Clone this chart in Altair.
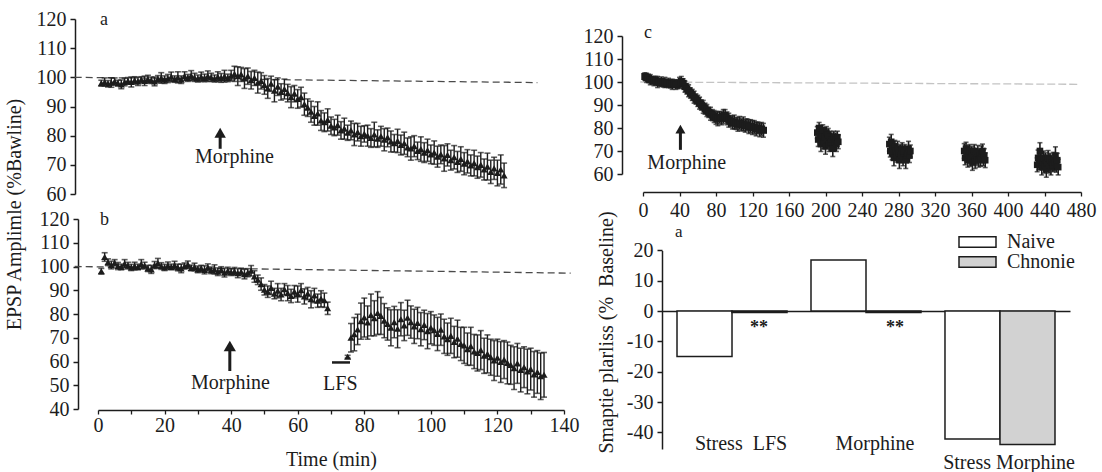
import altair as alt
import pandas as pd

FONT = "Liberation Serif, Times New Roman, serif"
INK = "#1c1c1c"

# ---------------- panel a : EPSP amplitude, morphine ----------------
a_time = list(range(1, 123))
a_mean = [98, 98.4, 97.8, 98.2, 98.6, 98, 97.6, 98.4, 98.8, 98.4,
          99, 98.6, 99.2, 98.8, 99.4, 99, 98.6, 99.4, 99.8, 99.2,
          99.6, 100.2, 99.4, 100, 99.2, 100.4, 99.8, 100.6, 100, 99.6,
          100.2, 99.8, 100.4, 100, 99.6, 100.2, 99.8, 100.4, 99.8, 100.6,
          101.2, 100.4, 101, 99.6, 100.4, 99, 99.8, 98.2, 98.8, 97.4,
          96.2, 97.8, 95.4, 96.8, 95, 96, 94.6, 93.2, 94.4, 92.6,
          93.2, 90.8, 89.6, 88.2, 86.8, 87.6, 85.2, 84.6, 85.4, 83.4,
          82.8, 83.6, 81.8, 82.4, 81, 81.8, 80.4, 81.2, 79.8, 80.6,
          80, 79.2, 80.4, 79, 79.8, 78.6, 79.4, 78, 77.4, 78.2,
          76.8, 77.4, 76, 75.6, 76.4, 74.8, 75.4, 74.2, 75, 73.6,
          74.2, 72.8, 73.6, 72.2, 73.4, 71.6, 72.6, 71, 72, 70.4,
          71.2, 69.8, 70.6, 69.2, 70, 68.4, 69.4, 67.6, 68.8, 67.2, 68.4, 66.4]
a_sem = [1.0, 1.4, 1.1, 1.6, 1.2, 1.0, 1.5, 1.3, 1.1, 1.7,
         1.2, 1.4, 1.0, 1.6, 1.3, 1.1, 1.5, 1.2, 1.8, 1.3,
         1.4, 1.6, 1.1, 1.9, 1.3, 1.5, 1.2, 1.7, 1.4, 1.2,
         1.6, 1.3, 1.8, 1.4, 1.2, 1.7, 1.5, 2.0, 1.3, 1.8,
         2.6, 3.2, 2.4, 3.4, 2.8, 3.0, 2.6, 3.6, 2.8, 3.2,
         3.4, 2.6, 3.8, 3.0, 2.8, 3.4, 3.0, 3.6, 2.8, 3.2,
         3.4, 3.8, 3.0, 3.6, 3.2, 4.0, 3.4, 3.2, 3.8, 3.0,
         2.8, 3.4, 3.0, 3.6, 2.6, 3.2, 3.8, 3.0, 3.4, 2.8,
         3.6, 3.2, 4.2, 3.0, 3.4, 3.8, 3.2, 3.6, 3.0, 4.0,
         3.4, 3.8, 3.2, 4.0, 3.6, 3.0, 4.2, 3.4, 3.8, 3.2,
         4.0, 3.6, 3.2, 4.4, 3.8, 3.4, 4.0, 3.6, 4.2, 3.8,
         4.0, 3.6, 4.4, 3.8, 4.2, 3.6, 4.6, 4.0, 3.8, 4.4, 5.0, 4.2]

# ---------------- panel b : morphine then LFS ----------------
b_pre_time = list(range(1, 70))
b_pre_mean = [98, 104, 101.8, 100.6, 101.6, 100.2, 99.8, 101.2, 100.4, 99.6,
              100.2, 99.8, 101, 100.4, 99.2, 98.8, 100.6, 101.4, 100.2, 99.6,
              100.4, 99.8, 100.6, 99.6, 99.2, 100.2, 100.8, 99.4, 99.8, 98.8,
              99.2, 98.6, 99.6, 98.4, 98.8, 97.8, 98.6, 97.4, 98.2, 97.6,
              98, 97.2, 97.8, 96.8, 97.4, 98.2, 95.8, 94.4, 92.6, 90.2,
              89.4, 91, 88.6, 89.8, 88.2, 90.4, 88.8, 87.6, 89.4, 88.4,
              90, 87.4, 88.6, 86.2, 87.8, 85.6, 86.4, 85.8, 82.4]
b_pre_sem = [1.2, 1.8, 1.4, 1.6, 1.3, 1.5, 1.2, 1.7, 1.4, 1.3,
             1.6, 1.2, 1.9, 1.4, 1.3, 1.7, 1.5, 2.0, 1.4, 1.3,
             1.5, 1.2, 1.6, 1.4, 1.8, 1.3, 1.5, 1.2, 1.6, 1.4,
             1.3, 1.7, 1.5, 1.4, 1.9, 1.6, 1.3, 1.8, 1.5, 1.4,
             1.6, 1.9, 1.5, 2.0, 1.7, 2.2, 2.4, 2.0, 2.6, 2.2,
             2.4, 2.8, 2.2, 3.0, 2.6, 2.4, 3.2, 2.8, 2.6, 3.4,
             2.8, 3.2, 2.6, 3.6, 3.0, 2.8, 3.4, 3.0, 2.6]
b_post_time = list(range(75, 135))
b_post_mean = [62, 70, 71.5, 73.5, 77, 78.5, 76.4, 79.6, 78.2, 80.4, 79.2,
               77.2, 75.8, 74.2, 76.6, 73.8, 77.8, 75.2, 78.4, 76.6, 74.8,
               76.2, 73.6, 75.4, 72.8, 74.2, 73.2, 71.6, 73.4, 70.6, 69.4,
               70.8, 68.2, 69.6, 67.4, 66.8, 65.2, 66.4, 64.2, 63.6, 64.8,
               62.4, 63.2, 61.8, 60.4, 61.6, 59.8, 60.8, 59.4, 58.6, 57.2,
               59.2, 56.4, 57.6, 55.8, 56.8, 54.6, 55.6, 53.8, 54.4]
b_post_sem = [0.6, 6.0, 7.0, 6.4, 7.6, 8.2, 7.0, 8.8, 7.4, 9.0, 7.8,
              7.2, 6.8, 7.6, 6.6, 8.0, 7.0, 6.4, 7.4, 6.8, 7.2,
              6.6, 7.0, 6.2, 7.4, 6.8, 6.4, 7.0, 6.6, 7.2, 6.8,
              7.4, 6.6, 7.8, 7.0, 7.6, 6.8, 8.0, 7.2, 7.6, 8.2,
              7.4, 8.0, 7.6, 8.4, 7.8, 8.6, 8.0, 8.8, 8.2, 9.0,
              8.4, 9.2, 8.6, 9.4, 8.8, 9.6, 9.0, 9.8, 9.4]

# ---------------- panel c : long recording ----------------
c_main_time = list(range(2, 134, 2))
c_main_mean = [102.4, 101.8, 101.6, 101, 100.8, 100.4, 100.6, 100, 99.8, 100.2,
               99.6, 99.8, 99.4, 99.6, 99.2, 99, 99.4, 98.8, 99, 99.6,
               100.2, 99.4, 98, 97, 96.2, 95.2, 94.4, 93.4, 92.6, 91.8,
               90.8, 90, 89.2, 88.4, 87.6, 86.8, 86.2, 85.6, 85, 84.4,
               84, 84.6, 84.2, 85, 85.4, 84.2, 83.4, 83, 82.4, 82.6,
               82, 81.6, 82.2, 81.4, 81.8, 81, 81.4, 80.6, 80.8, 80.2,
               80.4, 79.6, 80, 79.2, 79.6, 79]
c_main_sem = [1.6, 2.0, 1.8, 2.2, 1.6, 2.0, 1.8, 2.4, 1.6, 2.0,
              1.8, 2.2, 1.6, 2.0, 1.8, 2.2, 1.6, 2.0, 1.8, 2.4,
              2.2, 2.0, 2.4, 2.2, 2.6, 2.2, 2.4, 2.6, 2.2, 2.4,
              2.6, 2.2, 2.8, 2.4, 2.6, 2.2, 2.8, 2.4, 2.6, 2.8,
              3.0, 2.6, 2.8, 3.0, 2.6, 2.8, 3.0, 2.4, 2.8, 3.0,
              2.6, 3.0, 2.8, 2.6, 3.0, 2.8, 2.6, 3.0, 2.8, 3.0,
              2.8, 3.0, 2.6, 3.0, 2.8, 3.0]
c_late_time = (list(range(191, 215)) + list(range(270, 294))
               + list(range(352, 376)) + list(range(432, 456)))
c_late_mean = [78, 75, 80, 76, 73, 77, 79, 74, 76, 72, 78, 75, 77, 73, 76, 74, 75, 71, 76, 74, 75, 73, 76, 74,
               73, 70, 74, 69, 71, 67, 72, 70, 68, 71, 69, 66, 70, 68, 71, 67, 69, 70, 66, 68, 69, 71, 68, 70,
               70, 67, 71, 69, 66, 68, 70, 67, 69, 65, 68, 70, 66, 68, 67, 69, 66, 68, 67, 69, 70, 67, 68, 66,
               64, 67, 65, 70, 66, 63, 65, 67, 64, 66, 62, 65, 67, 64, 66, 63, 65, 64, 66, 65, 68, 64, 66, 63]
c_late_sem = [2.6, 3.0, 2.4, 2.8, 3.2, 2.6, 2.4, 3.0, 2.8, 3.4, 2.6, 3.0, 2.8, 3.2, 2.6, 3.0, 2.8, 3.4, 2.6, 3.0, 2.8, 3.2, 2.6, 3.0,
              3.0, 2.6, 3.2, 2.8, 3.0, 3.4, 2.6, 3.0, 2.8, 3.2, 3.0, 3.6, 2.8, 3.0, 2.6, 3.4, 3.0, 2.8, 3.6, 3.0, 2.8, 3.2, 3.0, 2.6,
              3.2, 3.0, 2.8, 3.4, 3.0, 3.2, 2.8, 3.6, 3.0, 3.4, 3.2, 2.8, 3.6, 3.0, 3.2, 3.4, 3.0, 2.8, 3.6, 3.2, 3.0, 3.4, 3.0, 3.2,
              3.0, 3.4, 3.2, 3.6, 3.0, 3.4, 3.2, 3.0, 3.6, 3.2, 3.4, 3.0, 3.2, 3.6, 3.0, 3.4, 3.2, 3.0, 3.4, 3.6, 3.8, 3.2, 3.0, 3.4]

# ---------------- panel d : bar chart ----------------
groups = ["Stress\u00a0 LFS", "Morphine", "Stress Morphine"]
types = ["Naive", "Chnonie"]
bar_group = [groups[0], groups[0], groups[1], groups[1], groups[2], groups[2]]
bar_type = ["Naive", "Chnonie", "Naive", "Chnonie", "Naive", "Chnonie"]
bar_value = [-15, -0.5, 16.8, -0.5, -42.2, -44]


def frame(t, m, s):
    df = pd.DataFrame({"t": t, "m": m, "s": s})
    df["lo"] = df["m"] - df["s"]
    df["hi"] = df["m"] + df["s"]
    return df


def yaxis(offset, values, **kw):
    return alt.Axis(orient="left", offset=offset, values=values, tickSize=5,
                    labelPadding=4, domainColor=INK, tickColor=INK,
                    domainWidth=1.5, tickWidth=1.5, labelColor=INK,
                    labelFont=FONT, labelFontSize=20, grid=False, **kw)


def xaxis(offset, values, pad, **kw):
    return alt.Axis(orient="bottom", offset=offset, values=values, tickSize=4,
                    labelPadding=pad, domainColor=INK, tickColor=INK,
                    domainWidth=1.5, tickWidth=1.3, labelColor=INK,
                    labelFont=FONT, labelFontSize=20, grid=False,
                    labelFlush=False, labelOverlap=False, **kw)


def series(df, xs, ys, shape, size, cap=6, width=1.4):
    base = alt.Chart(df)
    X = alt.X("t:Q", scale=xs, axis=None)
    err = base.mark_rule(color=INK, strokeWidth=width).encode(
        x=X, y=alt.Y("lo:Q", scale=ys, axis=None), y2="hi:Q")
    top = base.mark_tick(color=INK, orient="horizontal", size=cap, thickness=1.6).encode(
        x=X, y=alt.Y("hi:Q", scale=ys, axis=None))
    bot = base.mark_tick(color=INK, orient="horizontal", size=cap, thickness=1.6).encode(
        x=X, y=alt.Y("lo:Q", scale=ys, axis=None))
    pts = base.mark_point(shape=shape, filled=True, size=size, color=INK, opacity=1).encode(
        x=X, y=alt.Y("m:Q", scale=ys, axis=None))
    return [err, top, bot, pts]


def baseline(xs, ys, x0, x1, y0, y1, color, dash):
    df = pd.DataFrame({"x0": [x0], "x1": [x1], "y0": [y0], "y1": [y1]})
    return alt.Chart(df).mark_rule(color=color, strokeWidth=1.3, strokeDash=dash).encode(
        x=alt.X("x0:Q", scale=xs, axis=None), x2="x1:Q",
        y=alt.Y("y0:Q", scale=ys, axis=None), y2="y1:Q")


def arrow(xs, ys, t, y0, y1, head):
    df = pd.DataFrame({"t": [t], "y0": [y0], "y1": [y1]})
    stem = alt.Chart(df).mark_rule(color=INK, strokeWidth=3).encode(
        x=alt.X("t:Q", scale=xs, axis=None),
        y=alt.Y("y0:Q", scale=ys, axis=None), y2="y1:Q")
    tip = alt.Chart(df).mark_point(shape="triangle-up", filled=True, size=head,
                                   color=INK, opacity=1).encode(
        x=alt.X("t:Q", scale=xs, axis=None), y=alt.Y("y1:Q", scale=ys, axis=None))
    return [stem, tip]


def texts(xs, ys, t, y, label, size, align="center"):
    df = pd.DataFrame({"t": t, "y": y, "label": label})
    return alt.Chart(df).mark_text(font=FONT, fontSize=size, color=INK, align=align,
                                   baseline="middle").encode(
        x=alt.X("t:Q", scale=xs, axis=None), y=alt.Y("y:Q", scale=ys, axis=None),
        text="label:N")


def axis_holder(xs, ys, xax, yax, t, y):
    df = pd.DataFrame({"t": [t], "y": [y]})
    return alt.Chart(df).mark_point(opacity=0).encode(
        x=alt.X("t:Q", scale=xs, axis=xax),
        y=alt.Y("y:Q", scale=ys, axis=yax))


# ---------------- scales ----------------
xa = alt.Scale(domain=[0, 140], range=[98, 564], nice=False, zero=False)
ya = alt.Scale(domain=[60, 120], range=[194, 19], nice=False, zero=False)
xb = alt.Scale(domain=[0, 140], range=[98, 564], nice=False, zero=False)
yb = alt.Scale(domain=[40, 120], range=[409, 219], nice=False, zero=False)
xc = alt.Scale(domain=[0, 480], range=[643, 1081], nice=False, zero=False)
yc = alt.Scale(domain=[60, 120], range=[174, 36], nice=False, zero=False)
yd = alt.Scale(domain=[-45.5, 20], range=[449, 250.4], nice=False, zero=False)
xd = alt.Scale(domain=groups, range=[662, 1070], paddingInner=0.179, paddingOuter=0.112)

layers = []

# ---------------- panel a ----------------
df_a = frame(a_time, a_mean, a_sem)
layers += [
    axis_holder(xa, ya, None, yaxis(-75, [60, 70, 80, 90, 100, 110, 120], title=""), 0, 100),
    baseline(xa, ya, -7, 132, 100, 98.2, "#4a4a4a", [7, 4]),
    *series(df_a, xa, ya, "triangle-up", 50),
    *arrow(xa, ya, 36.7, 75.5, 81, 130),
    texts(xa, ya, [0.6], [119.5], ["a"], 18, "left"),
    texts(xa, ya, [41], [72.7], ["Morphine"], 20),
]

# ---------------- panel b ----------------
df_b1 = frame(b_pre_time, b_pre_mean, b_pre_sem)
df_b2 = frame(b_post_time, b_post_mean, b_post_sem)
lfs = pd.DataFrame({"t0": [70.3], "t1": [75.7], "y": [59.6]})
layers += [
    axis_holder(xb, yb,
                xaxis(-62, list(range(0, 150, 10)), 1,
                      labelExpr="datum.value % 20 === 0 ? datum.label : ''",
                      title="Time (min)", titleFont=FONT, titleFontSize=20,
                      titleFontWeight="normal", titleColor=INK, titlePadding=14),
                yaxis(-78, [40, 50, 60, 70, 80, 90, 100, 110, 120],
                      title="EPSP Amplimle (%Bawline)", titleFont=FONT,
                      titleFontSize=20, titleFontWeight="normal", titleColor=INK,
                      titleX=-64, titleY=214, titleBaseline="middle"),
                0, 100),
    baseline(xb, yb, -7, 142, 100, 97.2, "#4a4a4a", [7, 4]),
    *series(df_b1, xb, yb, "triangle-up", 50),
    *series(df_b2, xb, yb, "triangle-up", 50),
    alt.Chart(lfs).mark_rule(color=INK, strokeWidth=2.5).encode(
        x=alt.X("t0:Q", scale=xb, axis=None), x2="t1:Q",
        y=alt.Y("y:Q", scale=yb, axis=None)),
    *arrow(xb, yb, 39.6, 56, 66.5, 150),
    texts(xb, yb, [0.6], [119.5], ["b"], 18, "left"),
    texts(xb, yb, [39.8, 72.8], [51, 50.6], ["Morphine", "LFS"], 20),
]

# ---------------- panel c ----------------
df_c1 = frame(c_main_time, c_main_mean, c_main_sem)
df_c2 = frame(c_late_time, c_late_mean, c_late_sem)
layers += [
    axis_holder(xc, yc, xaxis(-280, list(range(0, 520, 40)), 4, title=""),
                yaxis(-622, [60, 70, 80, 90, 100, 110, 120], title=""), 0, 100),
    baseline(xc, yc, -3, 478, 100, 99, "#c4c4c4", [8, 3]),
    *series(df_c1, xc, yc, "square", 50, cap=5, width=1.6),
    *series(df_c2, xc, yc, "square", 44, cap=5, width=1.6),
    *arrow(xc, yc, 41, 70.5, 79.5, 100),
    texts(xc, yc, [1], [121.3], ["c"], 18, "left"),
    texts(xc, yc, [48], [64.8], ["Morphine"], 20),
]

# ---------------- panel d ----------------
df_d = pd.DataFrame({"group": bar_group, "type": bar_type, "value": bar_value})
stars = pd.DataFrame({"group": groups[:2], "value": [-5.6, -5.6], "label": ["**", "**"]})
tag = pd.DataFrame({"group": [groups[0]], "value": [26], "label": ["a"]})
off = alt.Scale(domain=types, paddingInner=0, paddingOuter=0)
xd_axis = alt.Axis(orient="bottom", offset=-161, ticks=False, domainColor=INK,
                   domainWidth=1.6, labelColor=INK, labelFont=FONT, labelFontSize=20,
                   labelAngle=0, labelOffset=9, labelLimit=400, labelOverlap=False,
                   labelPadding={"condition": {"test": "datum.value === 'Stress Morphine'",
                                               "value": 141}, "value": 122},
                   grid=False, title="")
yd_axis = yaxis(-662, [-40, -30, -20, -10, 0, 10, 20], labelExpr="'' + datum.value",
                title="Smaptie plarliss (%\u00a0 Baseline)", titleFont=FONT,
                titleFontSize=20, titleFontWeight="normal", titleColor=INK,
                titleX=-56, titleY=332, titleBaseline="middle")
layers += [
    alt.Chart(df_d).mark_bar(stroke=INK, strokeWidth=1.5).encode(
        x=alt.X("group:N", scale=xd, axis=xd_axis, sort=groups),
        xOffset=alt.XOffset("type:N", scale=off, sort=types),
        y=alt.Y("value:Q", scale=yd, axis=yd_axis),
        fill=alt.Fill("type:N", sort=types,
                      scale=alt.Scale(domain=types, range=["#ffffff", "#d2d2d2"]),
                      legend=alt.Legend(orient="none", legendX=958, legendY=232, title=None,
                                        symbolType="M-1,-0.28H1V0.28H-1Z", symbolSize=1369,
                                        symbolStrokeColor=INK, symbolStrokeWidth=1.5,
                                        labelFont=FONT, labelFontSize=20, labelColor=INK,
                                        clipHeight=20, rowPadding=0, labelOffset=10)),
    ),
    alt.Chart(stars).mark_text(font=FONT, fontSize=18, fontWeight="bold",
                               color=INK, baseline="middle", dx=29).encode(
        x=alt.X("group:N", scale=xd, axis=None, sort=groups),
        y=alt.Y("value:Q", scale=yd, axis=None), text="label:N"),
    alt.Chart(tag).mark_text(font=FONT, fontSize=17, color=INK, align="left",
                             baseline="middle", dx=-55).encode(
        x=alt.X("group:N", scale=xd, axis=None, sort=groups),
        y=alt.Y("value:Q", scale=yd, axis=None), text="label:N"),
]

chart = alt.layer(*layers).resolve_scale(
    x="independent", y="independent", xOffset="independent"
).properties(
    width=1102, height=472, autosize=alt.AutoSizeParams(type="none"), padding=0,
    background="white"
).configure_view(stroke=None)

chart.save("out.html", embed_options={"renderer": "svg", "actions": False})
